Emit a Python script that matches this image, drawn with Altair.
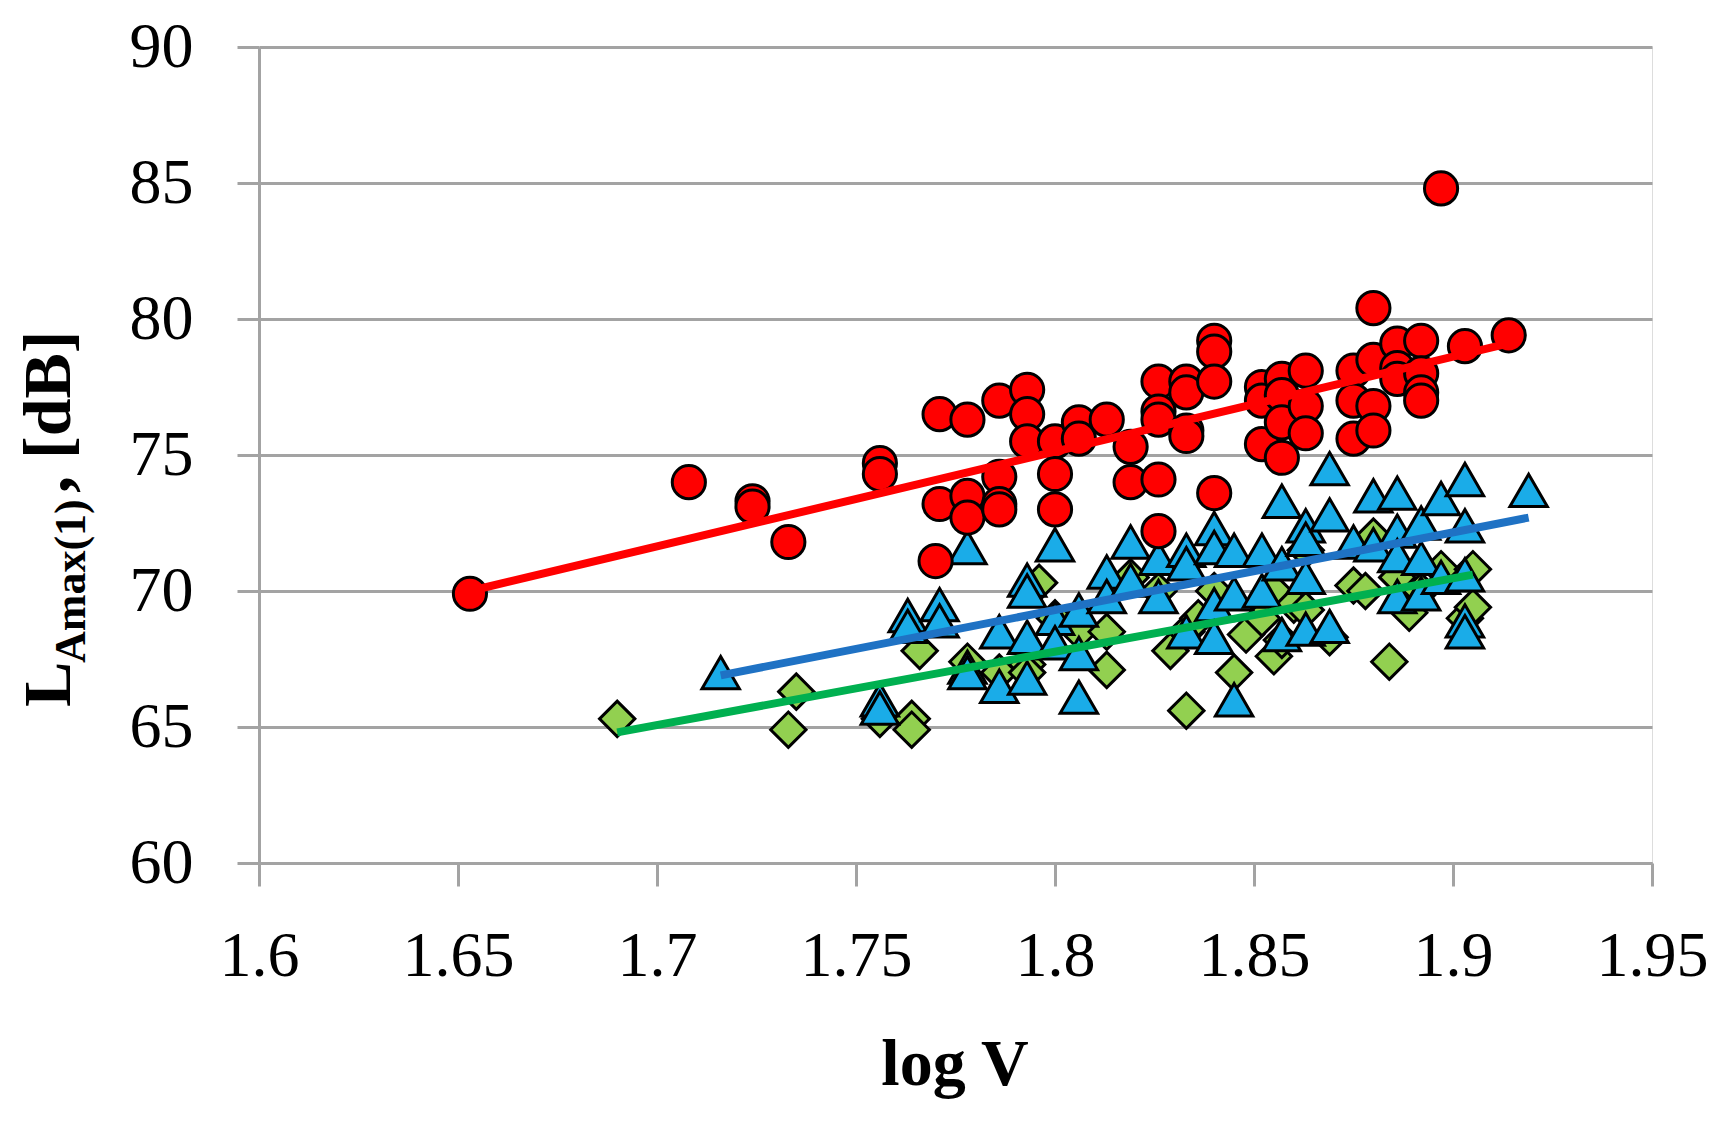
import altair as alt
import pandas as pd

# ---- data ----
red_x = [1.653, 1.708, 1.724, 1.724, 1.733, 1.756, 1.756, 1.771, 1.771, 1.770,
         1.778, 1.778, 1.778, 1.786, 1.786, 1.786, 1.786, 1.793, 1.793, 1.793,
         1.800, 1.800, 1.800, 1.806, 1.806, 1.813, 1.819, 1.819, 1.826, 1.826,
         1.826, 1.826, 1.826, 1.833, 1.833, 1.833, 1.833, 1.840, 1.840, 1.840,
         1.840, 1.852, 1.852, 1.852, 1.857, 1.857, 1.857, 1.857, 1.863, 1.863,
         1.863, 1.875, 1.875, 1.875, 1.880, 1.880, 1.880, 1.880, 1.886, 1.886,
         1.886, 1.892, 1.892, 1.892, 1.892, 1.897, 1.903, 1.914]
red_y = [69.9, 74.0, 73.3, 73.1, 71.8, 74.7, 74.3, 76.5, 73.2, 71.1,
         76.3, 73.5, 72.7, 77.0, 74.2, 73.2, 73.0, 77.4, 76.5, 75.5,
         75.5, 74.3, 73.0, 76.2, 75.6, 76.3, 75.3, 74.0, 77.7, 76.6,
         76.3, 74.1, 72.2, 77.7, 77.3, 75.9, 75.7, 79.2, 78.8, 77.7,
         73.6, 77.5, 77.0, 75.4, 77.8, 77.2, 76.2, 74.9, 78.1, 76.8,
         75.8, 78.1, 77.0, 75.6, 80.4, 78.5, 76.8, 75.9, 79.1, 78.2,
         77.8, 79.2, 78.0, 77.3, 77.0, 84.8, 79.0, 79.4]

blue_x = [1.716, 1.756, 1.756, 1.763, 1.763, 1.771, 1.771, 1.778, 1.778, 1.778,
          1.786, 1.786, 1.793, 1.793, 1.793, 1.793, 1.800, 1.800, 1.800, 1.806,
          1.806, 1.806, 1.813, 1.813, 1.819, 1.819, 1.826, 1.826, 1.833, 1.833,
          1.833, 1.840, 1.840, 1.840, 1.840, 1.845, 1.845, 1.845, 1.852, 1.852,
          1.857, 1.857, 1.857, 1.863, 1.863, 1.863, 1.863, 1.869, 1.869, 1.869,
          1.875, 1.880, 1.880, 1.886, 1.886, 1.886, 1.886, 1.892, 1.892, 1.892,
          1.897, 1.897, 1.903, 1.903, 1.903, 1.903, 1.903, 1.919]
blue_y = [67.0, 66.0, 65.7, 69.1, 68.7, 69.5, 68.9, 71.6, 67.2, 67.0,
          68.5, 66.5, 70.4, 70.0, 68.3, 66.8, 71.7, 69.0, 68.1, 69.3,
          67.7, 66.1, 70.7, 69.8, 71.8, 70.4, 71.2, 69.8, 71.5, 71.0,
          68.5, 72.3, 71.6, 69.5, 68.3, 71.5, 69.9, 66.0, 71.5, 70.0,
          73.3, 71.0, 68.4, 72.4, 71.9, 70.5, 68.6, 74.5, 72.8, 68.7,
          71.8, 73.5, 71.7, 73.6, 72.2, 71.3, 69.8, 72.5, 71.2, 69.9,
          73.4, 70.5, 74.1, 72.4, 70.6, 68.9, 68.5, 73.7]

green_x = [1.690, 1.733, 1.735, 1.756, 1.764, 1.764, 1.766, 1.778, 1.786, 1.793,
           1.793, 1.796, 1.800, 1.806, 1.813, 1.813, 1.819, 1.826, 1.829, 1.833,
           1.833, 1.836, 1.840, 1.845, 1.848, 1.852, 1.855, 1.855, 1.857, 1.860,
           1.863, 1.863, 1.869, 1.875, 1.878, 1.880, 1.884, 1.886, 1.889, 1.892,
           1.897, 1.903, 1.905, 1.905]
green_y = [65.3, 64.9, 66.3, 65.3, 65.3, 64.9, 67.8, 67.4, 67.0, 67.3,
           67.0, 70.3, 69.0, 68.5, 67.1, 68.5, 70.5, 70.0, 67.8, 65.6,
           68.5, 69.0, 70.0, 67.0, 68.4, 69.0, 70.0, 67.6, 68.2, 69.5,
           71.5, 69.3, 68.3, 70.2, 70.0, 72.0, 67.4, 70.5, 69.2, 70.0,
           70.8, 69.0, 70.8, 69.4]

# trend lines (end points)
red_trend_x = [1.653, 1.914]
red_trend_y = [70.0, 79.1]
blue_trend_x = [1.716, 1.919]
blue_trend_y = [66.9, 72.7]
green_trend_x = [1.690, 1.905]
green_trend_y = [64.8, 70.6]

x_ticks = [1.6, 1.65, 1.7, 1.75, 1.8, 1.85, 1.9, 1.95]
y_ticks = [60, 65, 70, 75, 80, 85, 90]

FONT = "Liberation Serif"
GRAY = "#a3a3a3"

xs = alt.Scale(domain=[1.6, 1.95], nice=False, zero=False)
ys = alt.Scale(domain=[60, 90], nice=False, zero=False)

x_axis = alt.Axis(values=x_ticks, format="~g", grid=False, title=None,
                  labelFont=FONT, labelFontSize=64, labelColor="black",
                  labelPadding=38, tickSize=23, tickWidth=3, tickColor=GRAY,
                  domainColor=GRAY, domainWidth=3, labelFlush=False)
y_axis = alt.Axis(values=y_ticks, grid=True, gridColor=GRAY, gridWidth=3,
                  title=None, labelFont=FONT, labelFontSize=64,
                  labelColor="black", labelPadding=44, tickSize=22,
                  tickWidth=3, tickColor=GRAY, domainColor=GRAY, domainWidth=3)

red_df = pd.DataFrame({"x": red_x, "y": red_y})
blue_df = pd.DataFrame({"x": blue_x, "y": blue_y})
green_df = pd.DataFrame({"x": green_x, "y": green_y})

base_axes = alt.Chart(pd.DataFrame({"x": [1.6], "y": [60]})).mark_point(
    opacity=0).encode(
    x=alt.X("x:Q", scale=xs, axis=x_axis),
    y=alt.Y("y:Q", scale=ys, axis=y_axis),
)

def pts(df, shape, fill, size):
    return alt.Chart(df).mark_point(
        shape=shape, filled=True, fill=fill, stroke="black", strokeWidth=3,
        size=size, opacity=1, fillOpacity=1, strokeOpacity=1
    ).encode(x=alt.X("x:Q", scale=xs), y=alt.Y("y:Q", scale=ys))

green_pts = pts(green_df, "diamond", "#92D050", 1250)
blue_pts = pts(blue_df, "triangle-up", "#1AACE8", 1400)
red_pts = pts(red_df, "circle", "#FF0000", 1100)

def trend(xv, yv, color):
    return alt.Chart(pd.DataFrame({"x": xv, "y": yv})).mark_line(
        color=color, strokeWidth=8
    ).encode(x=alt.X("x:Q", scale=xs), y=alt.Y("y:Q", scale=ys))

red_line = trend(red_trend_x, red_trend_y, "#FF0000")
blue_line = trend(blue_trend_x, blue_trend_y, "#1F72C4")
green_line = trend(green_trend_x, green_trend_y, "#00B050")

one = pd.DataFrame({"a": [0]})

def label(txt, x, y, size, angle=0, align="left"):
    return alt.Chart(one).mark_text(
        text=txt, font=FONT, fontSize=size, fontWeight="bold", color="black",
        angle=angle, align=align, baseline="alphabetic"
    ).encode(x=alt.value(x), y=alt.value(y))

y_title_L = label("L", -189, 660, 68, angle=270)
y_title_sub = label("Amax(1)", -174, 616, 44, angle=270)
y_title_rest = label(", [dB]", -189, 446, 68, angle=270)
x_title = label("log V", 696, 1038, 66, align="center")

chart = alt.layer(
    base_axes, green_pts, blue_pts, red_pts,
    red_line, blue_line, green_line,
    y_title_L, y_title_sub, y_title_rest, x_title
).properties(
    width=1393, height=816,
    padding={"left": 251, "top": 39, "right": 60, "bottom": 255},
    autosize=alt.AutoSizeParams(type="none"),
).configure_view(stroke=None).configure(background="white")

chart.save("out.html", embed_options={"renderer": "svg", "actions": False})
